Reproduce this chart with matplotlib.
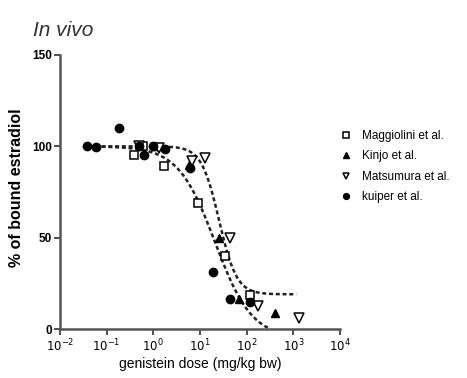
import numpy as np
import matplotlib
matplotlib.use("Agg")
import matplotlib.pyplot as plt
from matplotlib.ticker import FixedLocator, NullLocator

plt.rcParams['font.family'] = ['Liberation Sans', 'DejaVu Sans']

# data (dose in mg/kg bw, % of bound estradiol)
magg_x = [0.39, 0.6, 1.7, 8.9, 35, 115]
magg_y = [95, 100, 89, 69, 40, 18.6]
kinjo_x = [1.1, 5.8, 25, 70, 410]
kinjo_y = [100, 90, 50, 16.5, 9]
matsu_x = [0.5, 1.3, 6.6, 13, 43, 175, 1300]
matsu_y = [100, 99, 92, 93.5, 50, 12.6, 6]
kuiper_x = [0.038, 0.06, 0.18, 0.5, 0.63, 1.0, 1.8, 6.1, 19, 43, 117]
kuiper_y = [100, 99.5, 110, 100, 95, 100, 98.5, 88, 31, 16.5, 15]

# sigmoid fits (bottom, top, EC50, hill slope) and x range
fit_low = (-5, 100, 21, 1.1, 0.04, 340)
fit_high = (19, 100, 25.6, 2.3, 0.04, 1150)


def hill(x, bottom, top, ec50, h):
    return bottom + (top - bottom) / (1 + (x / ec50) ** h)


fig = plt.figure(figsize=(4.67, 3.78), dpi=100)
ax = fig.add_axes([0.1285, 0.1296, 0.5996, 0.725])

for b, t, c, h, x0, x1 in (fit_low, fit_high):
    xs = np.logspace(np.log10(x0), np.log10(x1), 300)
    ys = hill(xs, b, t, c, h)
    keep = ys >= 0
    ax.plot(xs[keep], ys[keep], color='#222222', lw=1.8,
            linestyle=(0, (1.6, 1.1)), zorder=2)

ax.plot(magg_x, magg_y, 's', ms=6, mfc='white', mec='black', mew=1.1,
        ls='none', label='Maggiolini et al.', zorder=3)
ax.plot(kinjo_x, kinjo_y, '^', ms=6, color='black', ls='none',
        label='Kinjo et al.', zorder=3)
ax.plot(matsu_x, matsu_y, 'v', ms=7, mfc='white', mec='black', mew=1.1,
        ls='none', label='Matsumura et al.', zorder=3)
ax.plot(kuiper_x, kuiper_y, 'o', ms=6, color='black', ls='none',
        label='kuiper et al.', zorder=3)

ax.set_xscale('log')
ax.set_xlim(1e-2, 1e4)
ax.set_ylim(0, 150)
ax.xaxis.set_major_locator(FixedLocator([10.0 ** k for k in range(-2, 5)]))
ax.xaxis.set_minor_locator(NullLocator())
ax.set_xticklabels(['$10^{%d}$' % k for k in range(-2, 5)])
ax.set_yticks([0, 50, 100, 150])

for s in ('top', 'right'):
    ax.spines[s].set_visible(False)
for s in ('left', 'bottom'):
    ax.spines[s].set_linewidth(1.8)
    ax.spines[s].set_color('#555555')
ax.tick_params(axis='both', length=4, width=1.5, color='#555555',
               labelsize=8.5, pad=2)
for lab in ax.get_yticklabels():
    lab.set_fontweight('bold')

ax.set_ylabel('% of bound estradiol', fontsize=11.5, fontweight='bold')
ax.yaxis.set_label_coords(-0.128, 0.515)
ax.set_xlabel('genistein dose (mg/kg bw)', fontsize=10, labelpad=2)
fig.text(0.07, 0.905, 'In vivo', fontsize=15, style='italic', color='#333333')

ax.legend(loc='upper left', bbox_to_anchor=(0.705, 0.685),
          bbox_transform=fig.transFigure, frameon=False, fontsize=8.5,
          handlelength=1.0, handletextpad=0.9, labelspacing=0.72,
          markerscale=0.7)

fig.savefig('out.png', dpi=100)
